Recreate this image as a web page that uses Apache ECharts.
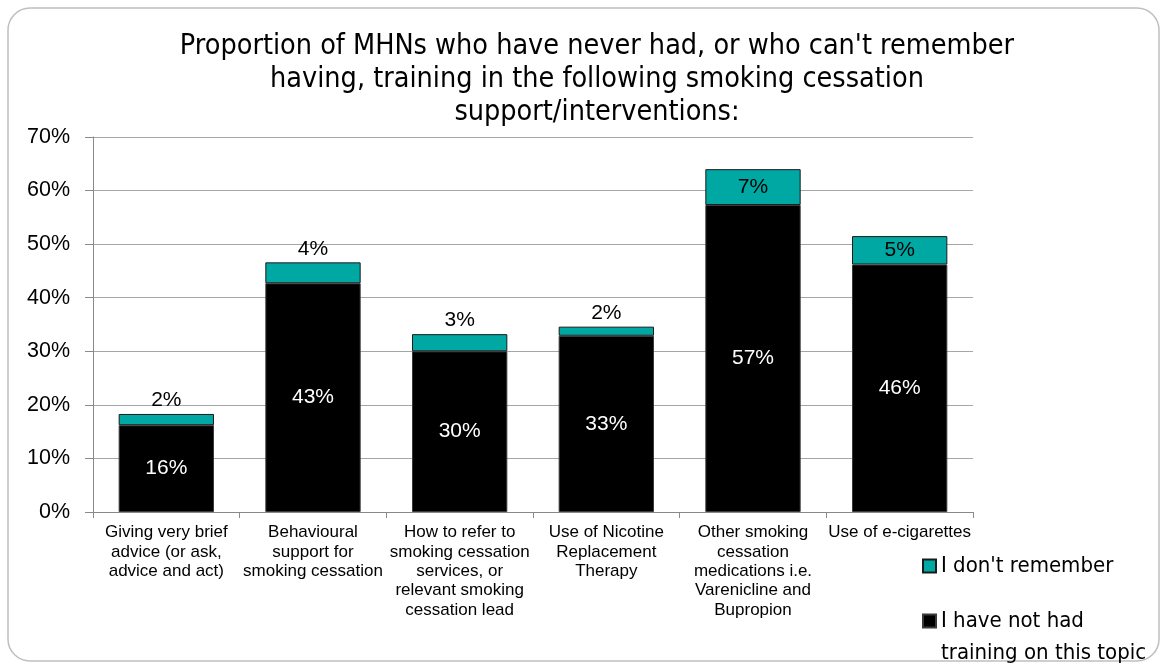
<!DOCTYPE html>
<html>
<head>
<meta charset="utf-8">
<script src="https://cdn.jsdelivr.net/npm/echarts@6/dist/echarts.min.js"></script>
<style>html,body{margin:0;padding:0;background:#fff}#c{width:1167px;height:670px}</style>
</head>
<body>
<div id="c"></div>
<script>
const categories = [
  "Giving very brief\nadvice (or ask,\nadvice and act)",
  "Behavioural\nsupport for\nsmoking cessation",
  "How to refer to\nsmoking cessation\nservices, or\nrelevant smoking\ncessation lead",
  "Use of Nicotine\nReplacement\nTherapy",
  "Other smoking\ncessation\nmedications i.e.\nVarenicline and\nBupropion",
  "Use of e-cigarettes"
];
const notHad = [16.2, 42.7, 30.0, 32.9, 57.3, 46.2];
const dontRemember = [2.1, 3.9, 3.2, 1.7, 6.7, 5.3];
const yTicks = [0, 10, 20, 30, 40, 50, 60, 70];
const nameNotHad = "I have not had training on this topic";
const nameDont = "I don't remember";

const condensed = "'Liberation Sans Narrow', 'DejaVu Sans Condensed', 'Roboto Condensed', 'Liberation Sans', sans-serif";
const arial = "'Liberation Sans', Arial, sans-serif";
const chart = echarts.init(document.getElementById('c'));
chart.setOption({
  animation: false,
  backgroundColor: '#fff',
  title: {
    text: "Proportion of MHNs who have never had, or who can't remember\nhaving, training in the following smoking cessation\nsupport/interventions:",
    left: 592, top: 25, textAlign: 'center',
    textStyle: { fontFamily: condensed, fontSize: 28.5, fontWeight: 'normal', color: '#000', lineHeight: 33 }
  },
  graphic: [{
    type: 'rect', silent: true, z: -1,
    shape: { x: 8, y: 8, width: 1151, height: 653, r: 22 },
    style: { fill: 'none', stroke: '#BFBFBF', lineWidth: 1.5 }
  }],
  legend: [{
    data: [nameDont], orient: 'vertical', left: 917, top: 545, icon: 'rect',
    itemWidth: 13, itemHeight: 13, itemGap: 10,
    textStyle: { fontFamily: condensed, fontSize: 22, color: '#000', lineHeight: 32 }
  }, {
    data: [nameNotHad], orient: 'vertical', left: 917, top: 568, icon: 'rect',
    itemWidth: 13, itemHeight: 13,
    formatter: () => " \nI have not had\ntraining on this topic",
    textStyle: { fontFamily: condensed, fontSize: 22, color: '#000', lineHeight: 32 }
  }],
  grid: { left: 93, right: 194, top: 137, bottom: 158, containLabel: false },
  xAxis: {
    type: 'category', data: categories,
    axisLine: { lineStyle: { color: '#898989' } },
    axisTick: { show: true, length: 6, lineStyle: { color: '#898989' } },
    axisLabel: { interval: 0, fontFamily: arial, fontSize: 17, lineHeight: 19.3, color: '#000', margin: 11 }
  },
  yAxis: {
    type: 'value', min: yTicks[0], max: yTicks[yTicks.length - 1], interval: 10,
    axisLine: { show: true, lineStyle: { color: '#898989' } },
    axisTick: { show: true, length: 8, lineStyle: { color: '#898989' } },
    splitLine: { lineStyle: { color: '#A6A6A6' } },
    axisLabel: { formatter: '{value}%', fontFamily: arial, fontSize: 21.5, color: '#000', margin: 23 }
  },
  series: [{
    name: nameNotHad, type: 'bar', stack: 'a', barCategoryGap: '35%',
    data: notHad,
    itemStyle: { color: '#000', borderColor: '#3a3a3a', borderWidth: 1 },
    label: { show: true, position: 'inside', color: '#fff', fontFamily: arial, fontSize: 21,
      formatter: p => Math.round(p.value) + '%' }
  }, {
    name: nameDont, type: 'bar', stack: 'a',
    data: dontRemember.map(v => ({ value: v, label: { position: v >= 5 ? 'inside' : 'top' } })),
    itemStyle: { color: '#00A8A4', borderColor: '#1a1a1a', borderWidth: 1 },
    label: { show: true, color: '#000', distance: 3, fontFamily: arial, fontSize: 21,
      formatter: p => Math.round(p.value) + '%' }
  }]
});
</script>
</body>
</html>
